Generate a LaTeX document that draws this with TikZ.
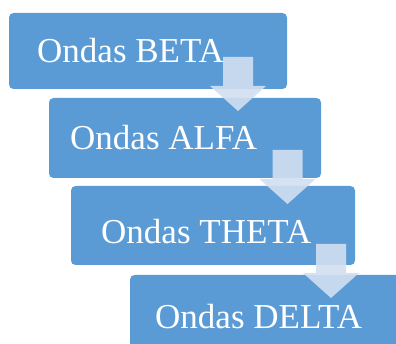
\documentclass[tikz,border=0pt]{standalone}
\usepackage{fontspec}
\setmainfont{Liberation Serif}
\begin{document}
\begin{tikzpicture}[x=1pt,y=-1pt,
  stagebox/.style={fill=stageblue, draw=none, rounded corners=4.5pt},
  stagelabel/.style={anchor=base west, inner sep=0pt, text=white,
    font=\fontsize{35}{38}\selectfont},
  flowarrow/.style={fill=arrowblue, fill opacity=0.9, draw=none}]
\definecolor{stageblue}{RGB}{91,155,213}
\definecolor{arrowblue}{RGB}{209,223,241}
\useasboundingbox (0,0) rectangle (396,344);
\clip (0,0) rectangle (396,344);

% stage boxes
\fill[stagebox] (9,13) rectangle (287,89);
\fill[stagebox] (49,98) rectangle (321,178);
\fill[stagebox] (71,186) rectangle (355,265);
\fill[stagebox] (130,275) rectangle (400,370);

% stage labels
\node[stagelabel] (beta)  at (37,63)  {Ondas BETA};
\node[stagelabel] (alfa)  at (70,150) {Ondas ALFA};
\node[stagelabel] (theta) at (101,244) {Ondas THETA};
\node[stagelabel] (delta) at (155,329) {Ondas DELTA};

% block arrows between the stages (top centre given)
\newcommand{\blockarrow}[2]{%
  \fill[flowarrow] (#1-15,#2) -- (#1+15,#2) -- (#1+15,#2+29) -- (#1+28,#2+29)
    -- (#1,#2+54) -- (#1-28,#2+29) -- (#1-15,#2+29) -- cycle;}
\blockarrow{238}{57}
\blockarrow{287.5}{150}
\blockarrow{331}{244}
\end{tikzpicture}
\end{document}
